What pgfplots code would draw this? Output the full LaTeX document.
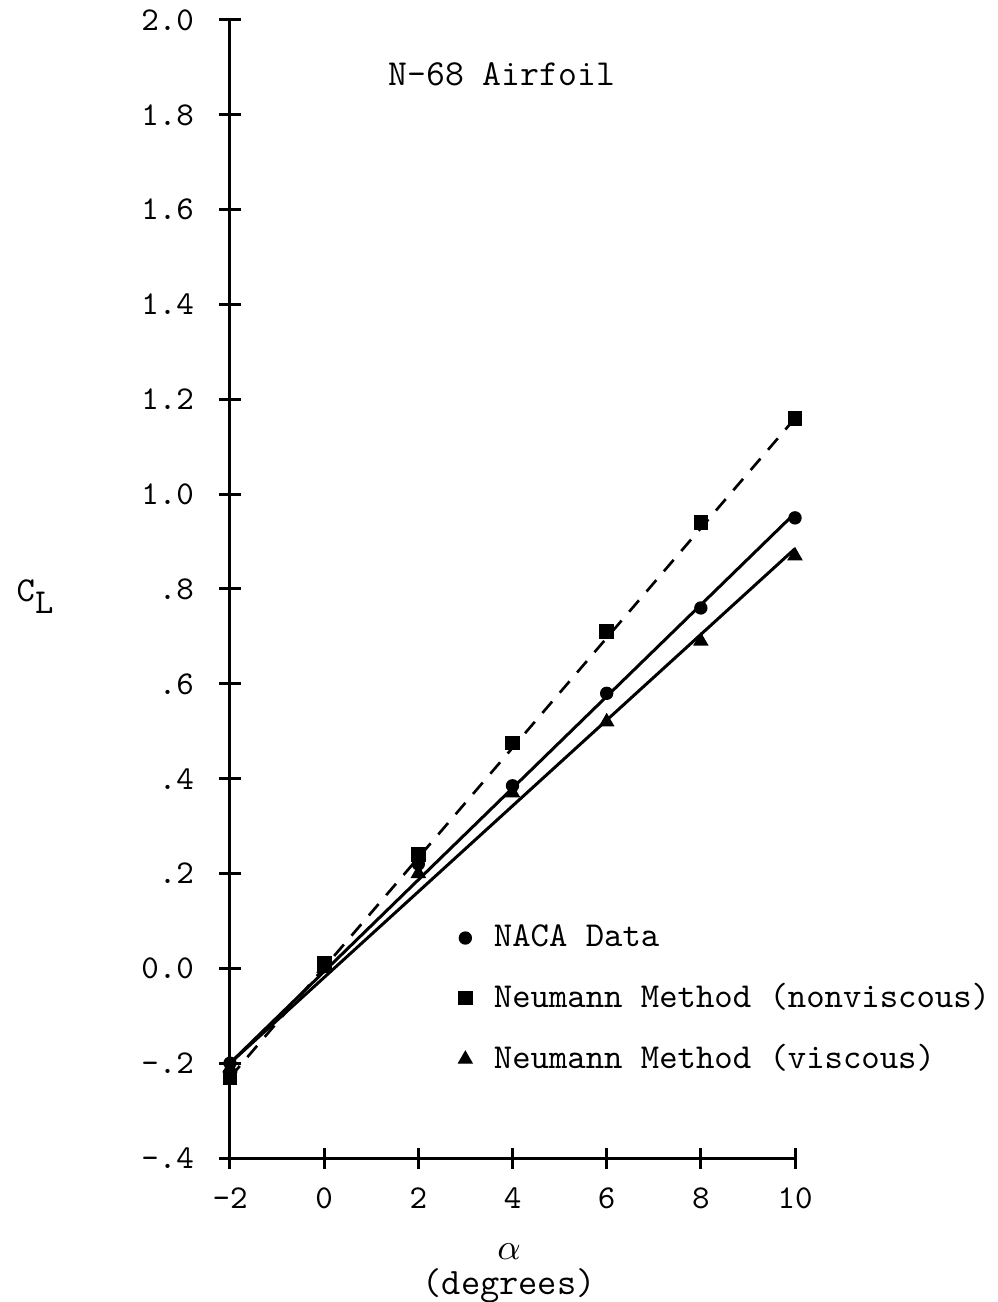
\documentclass[border=0pt]{standalone}
\usepackage{pgfplots}
\pgfplotsset{compat=1.18}

\pgfplotstableread{
a    cl
-2  -0.20
0    0.01
2    0.22
4    0.385
6    0.58
8    0.76
10   0.95
}\naca
\pgfplotstableread{
a    cl
-2  -0.23
0    0.01
2    0.24
4    0.475
6    0.71
8    0.94
10   1.16
}\nonvisc
\pgfplotstableread{
a    cl
-2  -0.21
0    0.00
2    0.20
4    0.37
6    0.52
8    0.69
10   0.87
}\visc

\begin{document}
\ttfamily\fontsize{10.5}{12}\selectfont
\begin{tikzpicture}
\useasboundingbox (-69pt,-43.2pt) rectangle (230.4pt,347.4pt);
\begin{axis}[
  scale only axis,
  width=169.5pt, height=341.4pt,
  xmin=-2, xmax=10, ymin=-0.4, ymax=2.0,
  axis lines=left,
  axis line style={-, line width=0.9pt},
  tick style={line width=0.9pt, black},
  tick align=center,
  major tick length=6.3pt,
  xtick={-2,0,2,4,6,8,10},
  xticklabels={-2,0,2,4,6,8,10},
  ytick={-0.4,-0.2,0,0.2,0.4,0.6,0.8,1.0,1.2,1.4,1.6,1.8,2.0},
  yticklabels={-.4,-.2,0.0,.2,.4,.6,.8,1.0,1.2,1.4,1.6,1.8,2.0},
  ticklabel style={font=\ttfamily\fontsize{10}{12}\selectfont},
  yticklabel style={xshift=-4pt},
  xticklabel style={yshift=-2pt},
  xlabel={$\alpha$\\(degrees)},
  xlabel style={align=center, font=\ttfamily\fontsize{11.2}{10.5}\selectfont,
    at={(rel axis cs:0.494,0)}, anchor=north, yshift=-22pt},
  ylabel={C\raisebox{-0.8ex}{L}},
  ylabel style={rotate=-90, at={(rel axis cs:-0.345,0.493)}, anchor=center},
  legend style={at={(axis cs:2.63,0.122)}, anchor=north west, draw=none, fill=none,
    font=\ttfamily\fontsize{10.5}{12}\selectfont, row sep=5.5pt, column sep=4.6pt},
  legend cell align=left,
  clip=false,
]
\addplot[only marks, mark=*, mark size=1.8pt, black] table[x=a,y=cl] {\naca};
\addlegendentry{NACA Data}
\addplot[only marks, mark=square*, mark size=2pt, black] table[x=a,y=cl] {\nonvisc};
\addlegendentry{Neumann Method (nonviscous)}
\addplot[only marks, mark=triangle*, mark size=2.3pt, black] table[x=a,y=cl] {\visc};
\addlegendentry{Neumann Method (viscous)}
% fitted lines
\addplot[black, line width=0.9pt, forget plot] coordinates {(-2,-0.20) (10,0.96)};
\addplot[black, line width=0.9pt, forget plot] coordinates {(-2,-0.20) (10,0.885)};
\addplot[black, line width=0.8pt, dash pattern=on 4.5pt off 3.5pt, forget plot] coordinates {(-2,-0.23) (10,1.16)};
\node[font=\ttfamily\fontsize{11}{12}\selectfont] at (axis cs:3.77,1.885) {N-68 Airfoil};
\end{axis}
\end{tikzpicture}
\end{document}
